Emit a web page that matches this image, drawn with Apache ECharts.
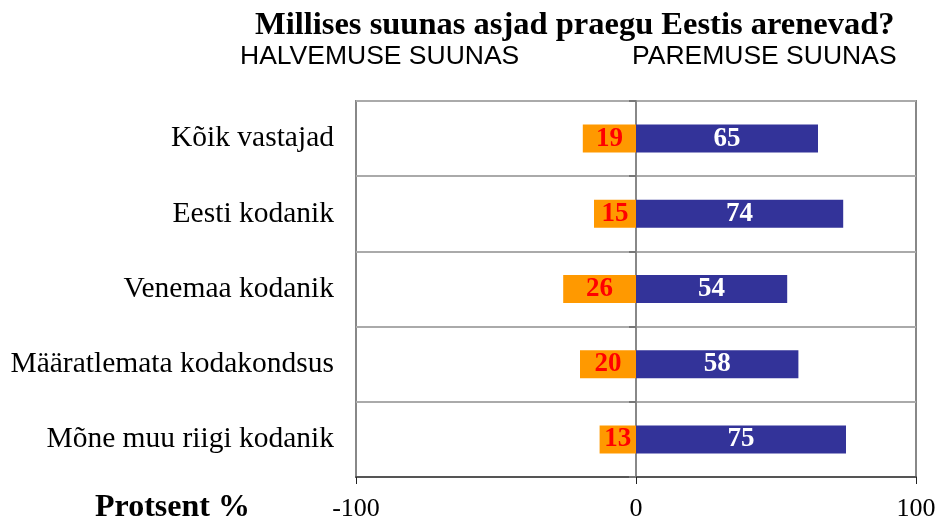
<!DOCTYPE html>
<html>
<head>
<meta charset="utf-8">
<title>Millises suunas asjad praegu Eestis arenevad?</title>
<script src="https://cdn.jsdelivr.net/npm/echarts@6/dist/echarts.min.js"></script>
<style>
  html, body { margin: 0; padding: 0; background: #fff; }
  #chart { width: 939px; height: 522px; }
</style>
</head>
<body>
<div id="chart"></div>
<script>
  // data
  var categories = ['Kõik vastajad', 'Eesti kodanik', 'Venemaa kodanik', 'Määratlemata kodakondsus', 'Mõne muu riigi kodanik'];
  var halvemus = [19, 15, 26, 20, 13];   // halvemuse suunas (drawn to the left)
  var paremus = [65, 74, 54, 58, 75];    // paremuse suunas
  var xTicks = [-100, 0, 100];

  var serif = '"Liberation Serif", "Times New Roman", serif';
  var sans = '"Liberation Sans", Arial, sans-serif';

  var myChart = echarts.init(document.getElementById('chart'));
  myChart.setOption({
    backgroundColor: '#fff',
    animation: false,
    grid: {
      left: 356, right: 23, top: 101, bottom: 45,
      show: true, borderColor: '#888', borderWidth: 2
    },
    graphic: [
      { type: 'text', left: 255, top: 9, style: { text: 'Millises suunas asjad praegu Eestis arenevad?', font: 'bold 32.5px ' + serif, fill: '#000' } },
      { type: 'text', left: 240, top: 43, style: { text: 'HALVEMUSE SUUNAS', font: '26.5px ' + sans, fill: '#000' } },
      { type: 'text', left: 632, top: 43, style: { text: 'PAREMUSE SUUNAS', font: '26.5px ' + sans, fill: '#000' } },
      { type: 'text', left: 95, top: 492, style: { text: 'Protsent %', font: 'bold 32px ' + serif, fill: '#000' } }
    ],
    xAxis: {
      type: 'value',
      min: xTicks[0], max: xTicks[xTicks.length - 1], interval: 100,
      axisLine: { show: true, onZero: false, lineStyle: { color: '#555', width: 2 } },
      axisTick: { show: true, length: 7, lineStyle: { color: '#222', width: 1 } },
      splitLine: { show: false },
      axisLabel: { fontFamily: serif, fontSize: 26, color: '#000', margin: 19 }
    },
    yAxis: [
      {
        type: 'category', data: categories, inverse: true,
        axisLine: { show: false, onZero: false },
        axisTick: { show: false },
        splitLine: { show: true, lineStyle: { color: '#aaa', width: 2 } },
        axisLabel: { fontFamily: serif, fontSize: 29.5, color: '#000', margin: 22 }
      },
      {
        // zero line with the small boundary ticks
        type: 'category', data: categories, inverse: true, position: 'left',
        axisLine: { show: true, onZero: true, onZeroAxisIndex: 0, lineStyle: { color: '#888', width: 2 } },
        axisTick: { show: true, length: 7, lineStyle: { color: '#777', width: 2 } },
        axisLabel: { show: false },
        splitLine: { show: false }
      }
    ],
    series: [
      {
        name: 'Halvemuse suunas', type: 'bar', stack: 'k', barWidth: 28,
        data: halvemus.map(function (v) { return -v; }),
        itemStyle: { color: '#FF9900' },
        label: {
          show: true, position: 'inside', color: '#FF0000',
          fontFamily: serif, fontWeight: 'bold', fontSize: 27,
          formatter: function (p) { return Math.abs(p.value); }
        }
      },
      {
        name: 'Paremuse suunas', type: 'bar', stack: 'k', barWidth: 28,
        data: paremus,
        itemStyle: { color: '#333399' },
        label: {
          show: true, position: 'inside', color: '#fff',
          fontFamily: serif, fontWeight: 'bold', fontSize: 27
        }
      }
    ]
  });
</script>
</body>
</html>
